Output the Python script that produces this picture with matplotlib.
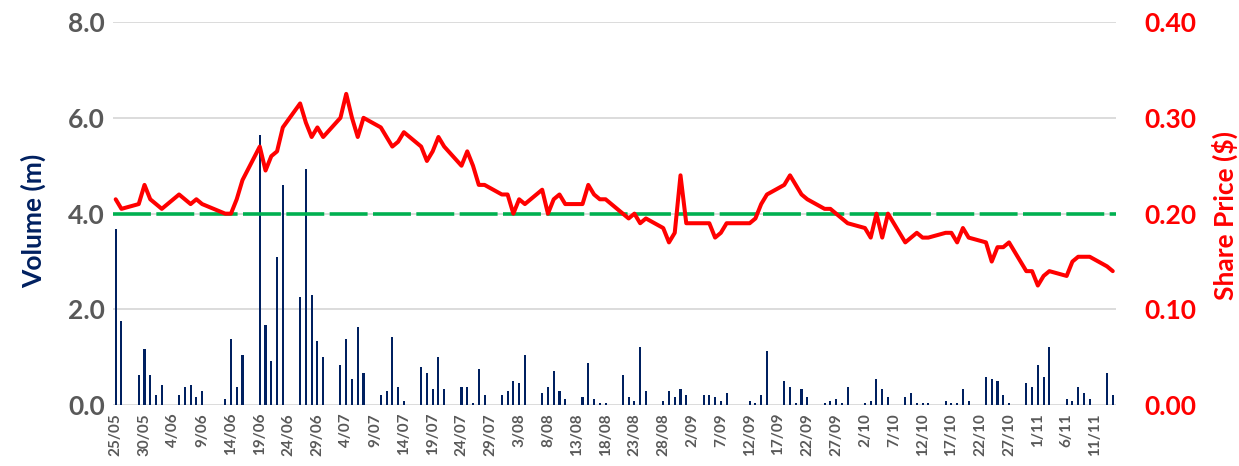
import matplotlib
matplotlib.use("Agg")
import matplotlib.pyplot as plt
import pandas as pd

# ---- data -------------------------------------------------------------
holidays = ["2023-06-12"]
trade_dates = pd.bdate_range("2023-05-25", "2023-11-14", freq="C", holidays=holidays)

volume_m = [
    3.67, 1.76,
    0.63, 1.17, 0.63, 0.21, 0.42,
    0.21, 0.38, 0.42, 0.17, 0.30,
    0.13, 1.38, 0.38, 1.05,
    5.64, 1.68, 0.92, 3.10, 4.60,
    2.26, 4.93, 2.30, 1.34, 1.01,
    0.84, 1.38, 0.55, 1.63, 0.67,
    0.21, 0.30, 1.43, 0.38, 0.09,
    0.80, 0.67, 0.34, 1.01, 0.34,
    0.38, 0.38, 0.05, 0.76, 0.21,
    0.21, 0.30, 0.51, 0.47, 1.05,
    0.26, 0.38, 0.72, 0.30, 0.13,
    0.17, 0.88, 0.13, 0.05, 0.05,
    0.63, 0.17, 0.09, 1.22, 0.30,
    0.09, 0.30, 0.17, 0.34, 0.21,
    0.21, 0.21, 0.17, 0.09, 0.26,
    0.00, 0.09, 0.05, 0.21, 1.13,
    0.51, 0.38, 0.05, 0.34, 0.17,
    0.05, 0.09, 0.13, 0.05, 0.38,
    0.05, 0.09, 0.55, 0.34, 0.17,
    0.17, 0.26, 0.05, 0.05, 0.05,
    0.09, 0.05, 0.05, 0.34, 0.09,
    0.59, 0.55, 0.51, 0.21, 0.05,
    0.47, 0.38, 0.84, 0.59, 1.22,
    0.13, 0.09, 0.38, 0.26, 0.13,
    0.67, 0.21,
]

share_price = [
    0.215, 0.205,
    0.210, 0.230, 0.215, 0.210, 0.205,
    0.220, 0.215, 0.210, 0.215, 0.210,
    0.200, 0.200, 0.215, 0.235,
    0.270, 0.245, 0.260, 0.265, 0.290,
    0.315, 0.295, 0.280, 0.290, 0.280,
    0.300, 0.325, 0.300, 0.280, 0.300,
    0.290, 0.280, 0.270, 0.275, 0.285,
    0.270, 0.255, 0.265, 0.280, 0.270,
    0.250, 0.265, 0.250, 0.230, 0.230,
    0.220, 0.220, 0.200, 0.215, 0.210,
    0.225, 0.200, 0.215, 0.220, 0.210,
    0.210, 0.230, 0.220, 0.215, 0.215,
    0.200, 0.195, 0.200, 0.190, 0.195,
    0.185, 0.170, 0.180, 0.240, 0.190,
    0.190, 0.190, 0.175, 0.180, 0.190,
    0.190, 0.190, 0.195, 0.210, 0.220,
    0.230, 0.240, 0.230, 0.220, 0.215,
    0.205, 0.205, 0.200, 0.195, 0.190,
    0.185, 0.175, 0.200, 0.175, 0.200,
    0.170, 0.175, 0.180, 0.175, 0.175,
    0.180, 0.180, 0.170, 0.185, 0.175,
    0.170, 0.150, 0.165, 0.165, 0.170,
    0.140, 0.140, 0.125, 0.135, 0.140,
    0.135, 0.150, 0.155, 0.155, 0.155,
    0.145, 0.140,
]

reference_price = 0.20
vol_ticks = [0.0, 2.0, 4.0, 6.0, 8.0]
price_ticks = [0.00, 0.10, 0.20, 0.30, 0.40]
tick_dates = pd.date_range("2023-05-25", "2023-11-14", freq="5D")
tick_labels = [f"{d.day}/{d.month:02d}" for d in tick_dates]

# ---- style ------------------------------------------------------------
FONT = ["Lato", "DejaVu Sans"]
GREY = "#595959"
NAVY = "#002060"
RED = "#FF0000"
GREEN = "#00B050"
GRID = "#D9D9D9"

fig = plt.figure(figsize=(12.39, 4.66), dpi=100)
ax = fig.add_axes([0.09104, 0.13026, 0.8094, 0.82253])

ax.bar(trade_dates, volume_m, width=0.36, color=NAVY, zorder=2)
ax.set_ylim(0, 8)
ax.set_yticks(vol_ticks)
ax.set_yticklabels([f"{v:.1f}" for v in vol_ticks], fontfamily=FONT,
                   fontweight="bold", fontsize=19, color=GREY)
ax.grid(axis="y", color=GRID, linewidth=1.3, zorder=0)
ax.set_axisbelow(True)

x0 = pd.Timestamp("2023-05-25") - pd.Timedelta(hours=12)
x1 = pd.Timestamp("2023-11-14") + pd.Timedelta(hours=12)
ax.set_xlim(x0, x1)
ax.set_xticks(tick_dates)
ax.set_xticklabels(tick_labels, rotation=90, fontfamily=FONT,
                   fontweight="bold", fontsize=11, color=GREY)
ax.tick_params(axis="x", length=0, pad=5.5)
ax.tick_params(axis="y", length=0, pad=5.6)

ax2 = ax.twinx()
ax2.axhline(reference_price, color=GREEN, linewidth=2.6, dashes=(10.5, 1.5), zorder=3)
ax2.plot(trade_dates, share_price, color=RED, linewidth=2.9,
         solid_joinstyle="round", solid_capstyle="round", zorder=4)
ax2.set_ylim(0, 0.4)
ax2.set_yticks(price_ticks)
ax2.set_yticklabels([f"{v:.2f}" for v in price_ticks], fontfamily=FONT,
                    fontweight="bold", fontsize=19, color=RED)
ax2.tick_params(axis="y", length=0, pad=21)
ax2.set_xlim(x0, x1)

for a in (ax, ax2):
    for s in a.spines.values():
        s.set_visible(False)

fig.text(33 / 1239, 1 - 221 / 466, "Volume (m)", rotation=90, ha="center", va="center",
         fontfamily=FONT, fontweight="bold", fontsize=19, color=NAVY)
fig.text(1225 / 1239, 1 - 215 / 466, "Share Price ($)", rotation=90, ha="center", va="center",
         fontfamily=FONT, fontweight="bold", fontsize=19, color=RED)

fig.savefig("out.png", dpi=100)
